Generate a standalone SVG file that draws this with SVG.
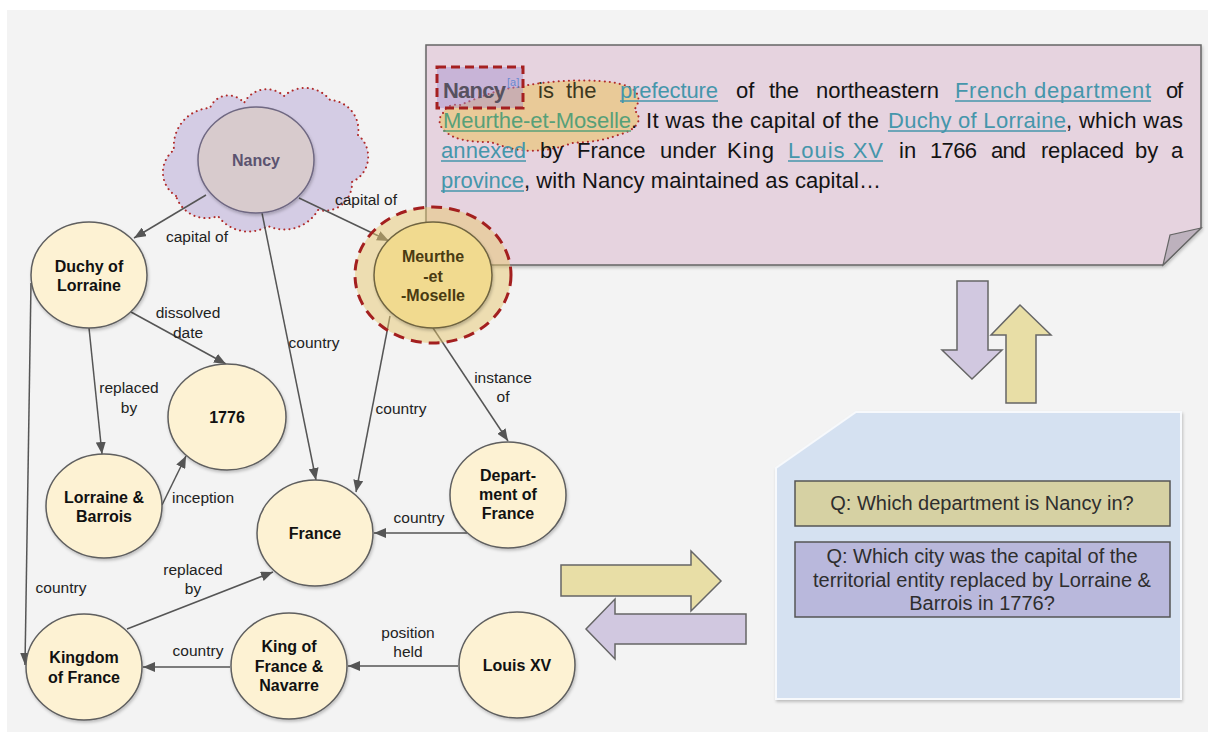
<svg xmlns="http://www.w3.org/2000/svg" width="1208" height="740" viewBox="0 0 1208 740">
  <style>
    .node ellipse { fill: #fdf2d3; stroke: #5f5f5f; stroke-width: 1.5; }
    .node text { font-family: "Liberation Sans", Arial, sans-serif; font-size: 16px; font-weight: bold; fill: #111; text-anchor: middle; }
    .edge { stroke: #555; stroke-width: 1.5; fill: none; marker-end: url(#arr); }
    .el { font-family: "Liberation Sans", Arial, sans-serif; font-size: 15.5px; fill: #222; text-anchor: middle; }
    .tx { font-family: "Liberation Sans", Arial, sans-serif; font-size: 22px; fill: #141414; }
    .lk { fill: #4596ab; }
    .ul { stroke: #4596ab; stroke-width: 1.5; }
    .q { font-family: "Liberation Sans", Arial, sans-serif; font-size: 20px; fill: #2e2e2e; text-anchor: middle; }
    .dotted { stroke: #b02a2a; stroke-width: 2; stroke-dasharray: 0.1 5; stroke-linecap: round; }
    .bigarrow { stroke: #666; stroke-width: 1.5; }
  </style>
  <defs>
    <marker id="arr" viewBox="0 0 12 10" refX="12" refY="5" markerWidth="12" markerHeight="10" orient="auto" markerUnits="userSpaceOnUse">
      <path d="M0,0 L12,5 L0,10 z" fill="#555"/>
    </marker>
    <filter id="sh" x="-10%" y="-10%" width="125%" height="125%">
      <feDropShadow dx="1" dy="2" stdDeviation="1.5" flood-color="#000" flood-opacity="0.22"/>
    </filter>
  </defs>

  <!-- canvas -->
  <rect x="0" y="0" width="1208" height="740" fill="#ffffff"/>
  <rect x="7" y="10" width="1201" height="722" fill="#f3f3f3"/>

  <!-- cloud highlight behind Nancy -->
  <path id="nancy-cloud" class="dotted" fill="#d4cce4"
        d="M176,196 A28,28 0 0 1 174,150 A38,38 0 0 1 210,108 A19.8,19.8 0 0 1 244,103 A25.6,25.6 0 0 1 284,96 A31.7,31.7 0 0 1 330,100 A30,30 0 0 1 358,135 A28,28 0 0 1 352,182 A27.5,27.5 0 0 1 318,210 A39,39 0 0 1 268,226 A37.5,37.5 0 0 1 218,216 A32,32 0 0 1 176,196 Z"/>

  <!-- connectors -->
  <g id="connectors">
    <line class="edge" x1="206" y1="195" x2="134" y2="238"/>
    <line class="edge" x1="299" y1="198" x2="389" y2="241"/>
    <line class="edge" x1="262" y1="213" x2="316" y2="480"/>
    <line class="edge" x1="131" y1="312" x2="226" y2="364"/>
    <line class="edge" x1="89" y1="328" x2="102" y2="454"/>
    <line class="edge" x1="162" y1="505" x2="186" y2="456"/>
    <line class="edge" x1="31" y1="283" x2="25" y2="665"/>
    <line class="edge" x1="390" y1="316" x2="356" y2="492"/>
    <line class="edge" x1="433" y1="328" x2="508" y2="441"/>
    <line class="edge" x1="467" y1="533" x2="374" y2="533"/>
    <line class="edge" x1="127" y1="629" x2="273" y2="572"/>
    <line class="edge" x1="230" y1="667" x2="143" y2="667"/>
    <line class="edge" x1="458" y1="666" x2="348" y2="666"/>

    <text class="el" x="197" y="242">capital of</text>
    <text class="el" x="366" y="205">capital of</text>
    <text class="el" x="314" y="348">country</text>
    <text class="el" x="188" y="318">dissolved</text>
    <text class="el" x="188" y="338">date</text>
    <text class="el" x="129" y="393">replaced</text>
    <text class="el" x="129" y="413">by</text>
    <text class="el" x="203" y="503">inception</text>
    <text class="el" x="61" y="593">country</text>
    <text class="el" x="401" y="414">country</text>
    <text class="el" x="503" y="383">instance</text>
    <text class="el" x="503" y="402">of</text>
    <text class="el" x="419" y="523">country</text>
    <text class="el" x="193" y="575">replaced</text>
    <text class="el" x="193" y="594">by</text>
    <text class="el" x="198" y="656">country</text>
    <text class="el" x="408" y="638">position</text>
    <text class="el" x="408" y="657">held</text>
  </g>

  <!-- passage card with folded corner -->
  <g id="passage">
    <path d="M426,45 L1201,45 L1201,228 L1163,265 L426,265 Z" fill="#e6d3df" stroke="#666" stroke-width="1.5" filter="url(#sh)"/>
    <path d="M1163,265 L1170,235 L1201,228 Z" fill="#bdb1bd" stroke="#666" stroke-width="1.2"/>

    <!-- mention highlight: Meurthe-et-Moselle -->
    <path class="dotted" fill="#e9ca98"
          d="M443,113 C446,106 452,104 460,105 C478,98 500,88 520,87 C545,80 600,78 620,84 C640,88 642,100 634,110 C644,118 638,130 618,135 C600,142 585,142 572,143 C555,150 535,152 520,150 C505,148 498,144 490,142 C470,142 455,140 446,132 C438,126 438,118 443,113 Z"/>
    <!-- mention highlight: Nancy -->
    <rect x="437" y="67" width="86" height="41" fill="#a58fcf" fill-opacity="0.45" stroke="#a52020" stroke-width="3" stroke-dasharray="9 5"/>

    <!-- line 1 -->
    <text class="tx" x="443" y="98" textLength="63" font-weight="bold" style="fill:#57515f">Nancy</text>
    <text x="507" y="86" font-family="Liberation Sans, Arial, sans-serif" font-size="11" fill="#6a8ad0">[a]</text>
    <text class="tx" x="538" y="98" style="fill:#3d3820">is</text>
    <text class="tx" x="566" y="98" style="fill:#3d3820">the</text>
    <text class="tx lk" x="620" y="98" textLength="98">prefecture</text>
    <text class="tx" x="736" y="98">of</text>
    <text class="tx" x="769" y="98" textLength="30">the</text>
    <text class="tx" x="816" y="98" textLength="123">northeastern</text>
    <text class="tx lk" x="955" y="98" textLength="196">French department</text>
    <text class="tx" x="1166" y="98" textLength="17">of</text>
    <!-- line 2 -->
    <text class="tx" x="443" y="128" textLength="188" style="fill:#57a078">Meurthe-et-Moselle</text>
    <text class="tx" x="631" y="128">.</text>
    <text class="tx" x="646" y="128" textLength="233">It was the capital of the</text>
    <text class="tx lk" x="888" y="128" textLength="178">Duchy of Lorraine</text>
    <text class="tx" x="1066" y="128" textLength="117">, which was</text>
    <!-- line 3 -->
    <text class="tx lk" x="441" y="158" textLength="85">annexed</text>
    <text class="tx" x="540" y="158">by</text>
    <text class="tx" x="577" y="158">France</text>
    <text class="tx" x="660" y="158">under</text>
    <text class="tx" x="727" y="158" textLength="47">King</text>
    <text class="tx lk" x="788" y="158" textLength="95">Louis XV</text>
    <text class="tx" x="899" y="158">in</text>
    <text class="tx" x="930" y="158" textLength="47">1766</text>
    <text class="tx" x="991" y="158" textLength="35">and</text>
    <text class="tx" x="1041" y="158" textLength="83">replaced</text>
    <text class="tx" x="1135" y="158">by</text>
    <text class="tx" x="1171" y="158">a</text>
    <!-- line 4 -->
    <text class="tx lk" x="441" y="188" textLength="83">province</text>
    <text class="tx" x="524" y="188" textLength="357">, with Nancy maintained as capital…</text>

    <!-- link underlines -->
    <line class="ul" x1="620" y1="101" x2="718" y2="101"/>
    <line class="ul" x1="955" y1="101" x2="1151" y2="101"/>
    <line x1="443" y1="131" x2="631" y2="131" stroke="#57a078" stroke-width="1.5"/>
    <line class="ul" x1="888" y1="131" x2="1066" y2="131"/>
    <line class="ul" x1="441" y1="161" x2="526" y2="161"/>
    <line class="ul" x1="788" y1="161" x2="883" y2="161"/>
    <line class="ul" x1="441" y1="191" x2="524" y2="191"/>
  </g>

  <!-- nodes -->
  <g id="node-nancy" class="node">
    <ellipse cx="256" cy="160" rx="58" ry="53" style="fill:#d8cbcd;stroke:#6f6882" filter="url(#sh)"/>
    <text x="256" y="166" style="fill:#5b5370">Nancy</text>
  </g>
  <g id="node-meurthe" class="node">
    <ellipse cx="433" cy="275" rx="78" ry="68" style="fill:#e8c870;fill-opacity:0.5;stroke:#a31f1f;stroke-width:3;stroke-dasharray:11 7"/>
    <ellipse cx="433" cy="275" rx="59" ry="53" style="fill:#f1da8f;stroke:#6f6440" filter="url(#sh)"/>
    <text x="433" y="262" style="fill:#4a3b12">Meurthe</text>
    <text x="433" y="282" style="fill:#4a3b12">-et</text>
    <text x="433" y="301" style="fill:#4a3b12">-Moselle</text>
  </g>
  <g id="node-duchy" class="node">
    <ellipse cx="89" cy="275" rx="58" ry="53" filter="url(#sh)"/>
    <text x="89" y="272">Duchy of</text>
    <text x="89" y="291">Lorraine</text>
  </g>
  <g id="node-1776" class="node">
    <ellipse cx="227" cy="417" rx="59" ry="53" filter="url(#sh)"/>
    <text x="227" y="423">1776</text>
  </g>
  <g id="node-lorraine-barrois" class="node">
    <ellipse cx="104" cy="506" rx="58" ry="52" filter="url(#sh)"/>
    <text x="104" y="503">Lorraine &amp;</text>
    <text x="104" y="522">Barrois</text>
  </g>
  <g id="node-france" class="node">
    <ellipse cx="315" cy="533" rx="58" ry="53" filter="url(#sh)"/>
    <text x="315" y="539">France</text>
  </g>
  <g id="node-department" class="node">
    <ellipse cx="508" cy="495" rx="58" ry="53" filter="url(#sh)"/>
    <text x="508" y="481">Depart-</text>
    <text x="508" y="500">ment of</text>
    <text x="508" y="519">France</text>
  </g>
  <g id="node-kingdom" class="node">
    <ellipse cx="84" cy="667" rx="58" ry="53" filter="url(#sh)"/>
    <text x="84" y="663">Kingdom</text>
    <text x="84" y="683">of France</text>
  </g>
  <g id="node-king" class="node">
    <ellipse cx="289" cy="666" rx="58" ry="53" filter="url(#sh)"/>
    <text x="289" y="652">King of</text>
    <text x="289" y="672">France &amp;</text>
    <text x="289" y="691">Navarre</text>
  </g>
  <g id="node-louis" class="node">
    <ellipse cx="517" cy="665" rx="58" ry="53" filter="url(#sh)"/>
    <text x="517" y="671">Louis XV</text>
  </g>

  <!-- exchange arrows -->
  <g id="flow-arrows">
    <path class="bigarrow" fill="#d1c8e0" d="M957,281 L988,281 L988,350 L1002,350 L972,379 L942,350 L957,350 Z"/>
    <path class="bigarrow" fill="#e8dea6" d="M1006,403 L1036,403 L1036,335 L1051,335 L1020,305 L991,335 L1006,335 Z"/>
    <path class="bigarrow" fill="#e8dea6" d="M561,565 L691,565 L691,551 L721,581 L691,611 L691,596 L561,596 Z"/>
    <path class="bigarrow" fill="#d1c8e0" d="M746,614 L615,614 L615,599 L586,629 L615,659 L615,644 L746,644 Z"/>
  </g>

  <!-- question card -->
  <g id="questions">
    <path d="M856,412 L1181,412 L1181,699 L776,699 L776,468 Z" fill="#d5e1f1" stroke="#f7f9fc" stroke-width="2" filter="url(#sh)"/>
    <g id="q1">
      <rect x="795" y="481" width="375" height="45" fill="#d6d1a3" stroke="#555" stroke-width="1.5"/>
      <text class="q" x="982" y="510">Q: Which department is Nancy in?</text>
    </g>
    <g id="q2">
      <rect x="795" y="542" width="375" height="75" fill="#b9b8dc" stroke="#555" stroke-width="1.5"/>
      <text class="q" x="982" y="563">Q: Which city was the capital of the</text>
      <text class="q" x="982" y="587">territorial entity replaced by Lorraine &amp;</text>
      <text class="q" x="982" y="610">Barrois in 1776?</text>
    </g>
  </g>
</svg>
